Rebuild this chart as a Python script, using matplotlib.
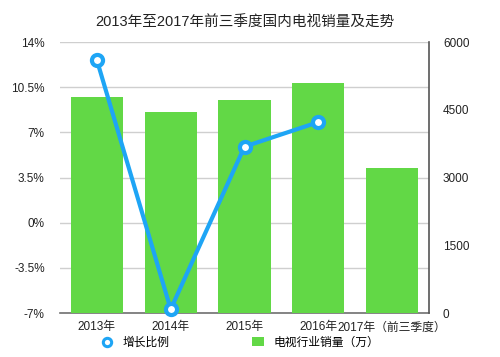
import matplotlib
matplotlib.use("Agg")
import matplotlib.pyplot as plt
from matplotlib.lines import Line2D
from matplotlib.patches import Patch

# Helvetica-like digits, CJK glyphs from Noto
plt.rcParams['font.family'] = ['Liberation Sans', 'Noto Sans CJK SC', 'DejaVu Sans']

# ---------------------------
# data
# ---------------------------
years = ['2013年', '2014年', '2015年', '2016年', '2017年（前三季度）']
sales = [4780, 4450, 4720, 5090, 3210]          # 电视行业销量（万）
growth = [12.6, -6.7, 5.9, 7.8]                 # 增长比例 (%)
pct_ticks = [-7, -3.5, 0, 3.5, 7, 10.5, 14]
pct_labels = ['-7%', '-3.5%', '0%', '3.5%', '7%', '10.5%', '14%']
sales_ticks = [0, 1500, 3000, 4500, 6000]

green = '#62d846'
blue = '#1ea5f5'

fig = plt.figure(figsize=(5.0, 3.57), dpi=100)
rect = [0.12, 0.123, 0.738, 0.759]

# left axis: percent scale + gridlines (drawn first, behind bars)
ax = fig.add_axes(rect)
ax.set_ylim(-7, 14)
ax.set_yticks(pct_ticks)
ax.set_yticklabels(pct_labels)
ax.grid(axis='y', color='#cfcfcf', linewidth=1.0)
ax.set_xlim(-0.5, len(years) - 0.5)
ax.set_xticks(range(len(years)))
ax.set_xticklabels(years)
for s in ['top', 'left', 'right']:
    ax.spines[s].set_visible(False)
ax.spines['bottom'].set_color('#707070')
ax.spines['bottom'].set_linewidth(1.2)
ax.tick_params(axis='y', length=0, pad=11, labelsize=8.5, colors='#222222')
ax.tick_params(axis='x', length=0, pad=6, labelsize=8.5, colors='#222222')

# right axis: bars
ax2 = ax.twinx()
ax2.set_ylim(0, 6000)
ax2.bar(range(len(years)), sales, width=0.71, color=green, zorder=2)
ax2.set_yticks(sales_ticks)
for s in ['top', 'left', 'bottom']:
    ax2.spines[s].set_visible(False)
ax2.spines['right'].set_color('#555555')
ax2.spines['right'].set_linewidth(1.2)
ax2.tick_params(axis='y', length=0, pad=10, labelsize=8.5, colors='#222222')

# line on top, same scale as left axis
ax3 = fig.add_axes(rect, sharex=ax, sharey=ax, frameon=False)
ax3.plot(range(len(growth)), growth, color=blue, linewidth=3,
         marker='o', markersize=8, markerfacecolor='white',
         markeredgecolor=blue, markeredgewidth=3, zorder=3, clip_on=False)
ax3.tick_params(left=False, bottom=False, labelleft=False, labelbottom=False)

fig.suptitle('2013年至2017年前三季度国内电视销量及走势', x=0.49, y=0.955,
             fontsize=10.5, color='#222222')

handles = [Line2D([], [], linestyle='none', marker='o', markersize=6,
                  markerfacecolor='white', markeredgecolor=blue, markeredgewidth=2.2),
           Patch(facecolor=green)]
fig.legend(handles, ['增长比例', '电视行业销量（万）'], loc='center',
           bbox_to_anchor=(0.48, 0.04), ncol=2, frameon=False, fontsize=8.5,
           columnspacing=7.0, handlelength=1.0, handletextpad=0.8)

fig.savefig('out.png', dpi=100)
